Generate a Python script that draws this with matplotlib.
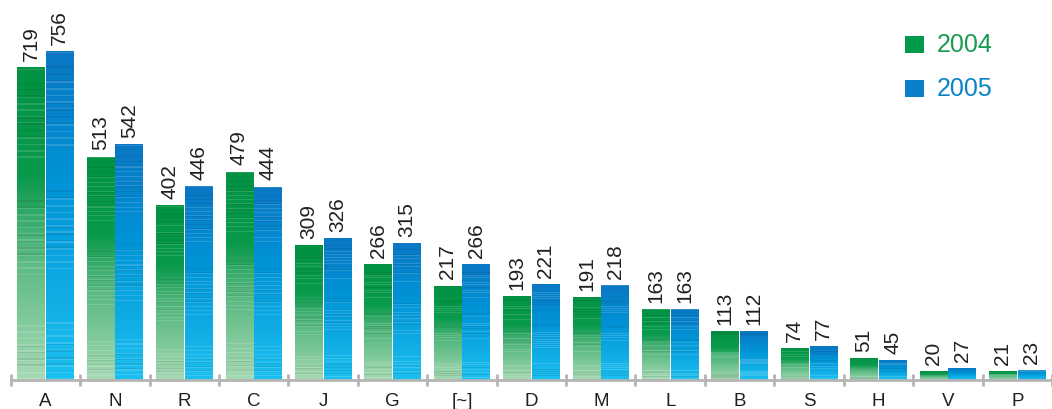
import numpy as np
import matplotlib
matplotlib.use("Agg")
import matplotlib.pyplot as plt
from matplotlib.colors import LinearSegmentedColormap
from matplotlib.patches import Rectangle

categories = ["A", "N", "R", "C", "J", "G", "[~]", "D", "M", "L", "B", "S", "H", "V", "P"]
values_2004 = [719, 513, 402, 479, 309, 266, 217, 193, 191, 163, 113, 74, 51, 20, 21]
values_2005 = [756, 542, 446, 444, 326, 315, 266, 221, 218, 163, 112, 77, 45, 27, 23]
series_labels = ["2004", "2005"]

plt.rcParams['font.family'] = ['Liberation Sans', 'DejaVu Sans']

W, H = 1052, 409
fig = plt.figure(figsize=(W / 100, H / 100), dpi=100)
ax = fig.add_axes([10.7 / W, 29 / H, (W - 10.7) / W, 380 / H])
ax.set_xlim(-0.5, 14.42)
ax.set_ylim(0, 873)
ax.patch.set_alpha(0)

green_cmap = LinearSegmentedColormap.from_list(
    "g", [(0.0, "#009242"), (0.35, "#0a9a4c"), (0.55, "#4db47a"), (1.0, "#a6d9b4")])
blue_cmap = LinearSegmentedColormap.from_list(
    "b", [(0.0, "#0a77c4"), (0.4, "#0093d6"), (1.0, "#1cc0f0")])

# deterministic streak texture
n = 200
idx = np.arange(n)
wave = np.sin(idx * 2.39) * np.sin(idx * 0.71 + 1.3)
streak = np.where(wave > 0.6, 0.14, np.where(wave < -0.75, -0.08, 0.0))

def grad_image(cmap):
    t = np.linspace(0, 1, n)  # top -> bottom
    cols = cmap(t)[:, :3]
    light = cols + (1 - cols) * np.clip(streak, 0, None)[:, None]
    cols = light * (1 + np.clip(streak, None, 0))[:, None]
    return np.clip(cols, 0, 1)[:, None, :]

bw = 0.398
gap = 0.0075
x = np.arange(len(categories))
bars04 = ax.bar(x - gap - bw / 2, values_2004, width=bw, color="none", edgecolor="none")
bars05 = ax.bar(x + gap + bw / 2, values_2005, width=bw, color="none", edgecolor="none")

for bars, cmap in ((bars04, green_cmap), (bars05, blue_cmap)):
    img = grad_image(cmap)
    for b in bars:
        x0, w, h = b.get_x(), b.get_width(), b.get_height()
        im = ax.imshow(img, extent=[x0, x0 + w, 0, h], aspect="auto",
                       interpolation="nearest", origin="upper", zorder=2)
        im.set_clip_path(b)

for bars, vals in ((bars04, values_2004), (bars05, values_2005)):
    for b, v in zip(bars, vals):
        ax.annotate(str(v), (b.get_x() + b.get_width() / 2, v), xytext=(0, 4.5),
                    textcoords="offset points", rotation=90, ha="center", va="bottom",
                    fontsize=15, color="#231f20")

for s in ("top", "right", "left"):
    ax.spines[s].set_visible(False)
ax.spines["bottom"].set_color("#b5b5b5")
ax.spines["bottom"].set_linewidth(2)
ax.set_yticks([])
ax.set_xticks(x)
ax.set_xticklabels(categories, fontsize=13.5, color="#231f20")
ax.tick_params(axis="x", which="major", length=0, pad=9)
ax.set_xticks(np.arange(-0.5, 14.6, 1.0), minor=True)
ax.tick_params(axis="x", which="minor", length=9, width=2, color="#b5b5b5", direction="inout")

# legend
leg_colors = ["#009a4a", "#0a80cc"]
text_colors = ["#1a9a50", "#0a82c8"]
for i, (lab, c, tc) in enumerate(zip(series_labels, leg_colors, text_colors)):
    top = 36 + i * 44
    fig.patches.append(Rectangle((905 / W, 1 - (top + 17) / H), 19 / W, 17 / H,
                                 transform=fig.transFigure, facecolor=c, edgecolor="none"))
    fig.text(937 / W, 1 - (top + 9) / H, lab, fontsize=18, color=tc, va="center", ha="left")

fig.savefig("out.png", dpi=100)
